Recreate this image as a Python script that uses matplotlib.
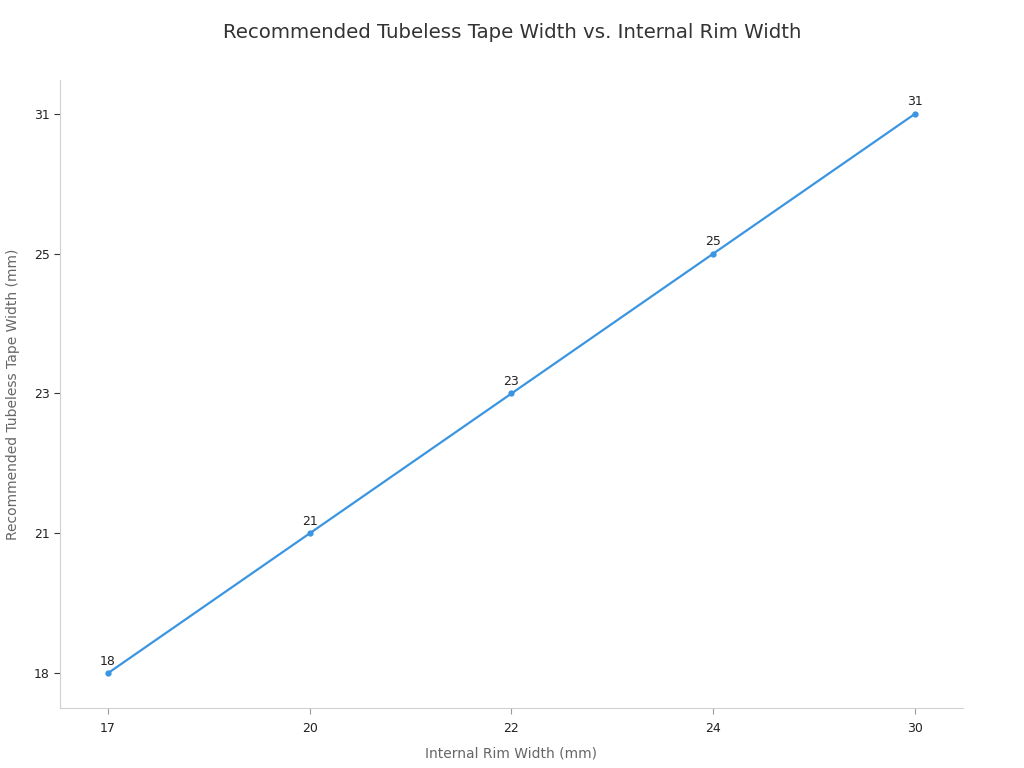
import matplotlib
matplotlib.use("Agg")
import matplotlib.pyplot as plt

rim_width = ['17', '20', '22', '24', '30']
tape_width = ['18', '21', '23', '25', '31']

fig = plt.figure(figsize=(10.24, 7.68), dpi=100)
ax = fig.add_axes([0.0586, 0.078, 0.8818, 0.818])

xs = list(range(len(rim_width)))
ys = list(range(len(tape_width)))
line_color = '#3b95e0'

ax.plot(xs, ys, color=line_color, linewidth=1.6, marker='o', markersize=3.5)
for x, y, lab in zip(xs, ys, tape_width):
    ax.annotate(lab, (x, y), xytext=(0, 4), textcoords='offset points',
                ha='center', va='bottom', fontsize=9, color='#222222')

ax.set_xticks(xs)
ax.set_xticklabels(rim_width)
ax.set_yticks(ys)
ax.set_yticklabels(tape_width)
ax.set_xlim(-0.238, 4.238)
ax.set_ylim(-0.25, 4.243)

for s in ['top', 'right']:
    ax.spines[s].set_visible(False)
for s in ['left', 'bottom']:
    ax.spines[s].set_color('#d0d0d0')

ax.tick_params(axis='y', length=4, color='#333333', labelsize=9, labelcolor='#222222')
ax.tick_params(axis='x', length=4, color='#999999', labelsize=9, labelcolor='#222222', pad=6)

ax.set_xlabel('Internal Rim Width (mm)', fontsize=10, color='#666666', labelpad=8)
ax.set_ylabel('Recommended Tubeless Tape Width (mm)', fontsize=10, color='#666666', labelpad=10)
fig.suptitle('Recommended Tubeless Tape Width vs. Internal Rim Width',
             fontsize=14.2, color='#333333', y=0.97)

fig.savefig('out.png', dpi=100)
